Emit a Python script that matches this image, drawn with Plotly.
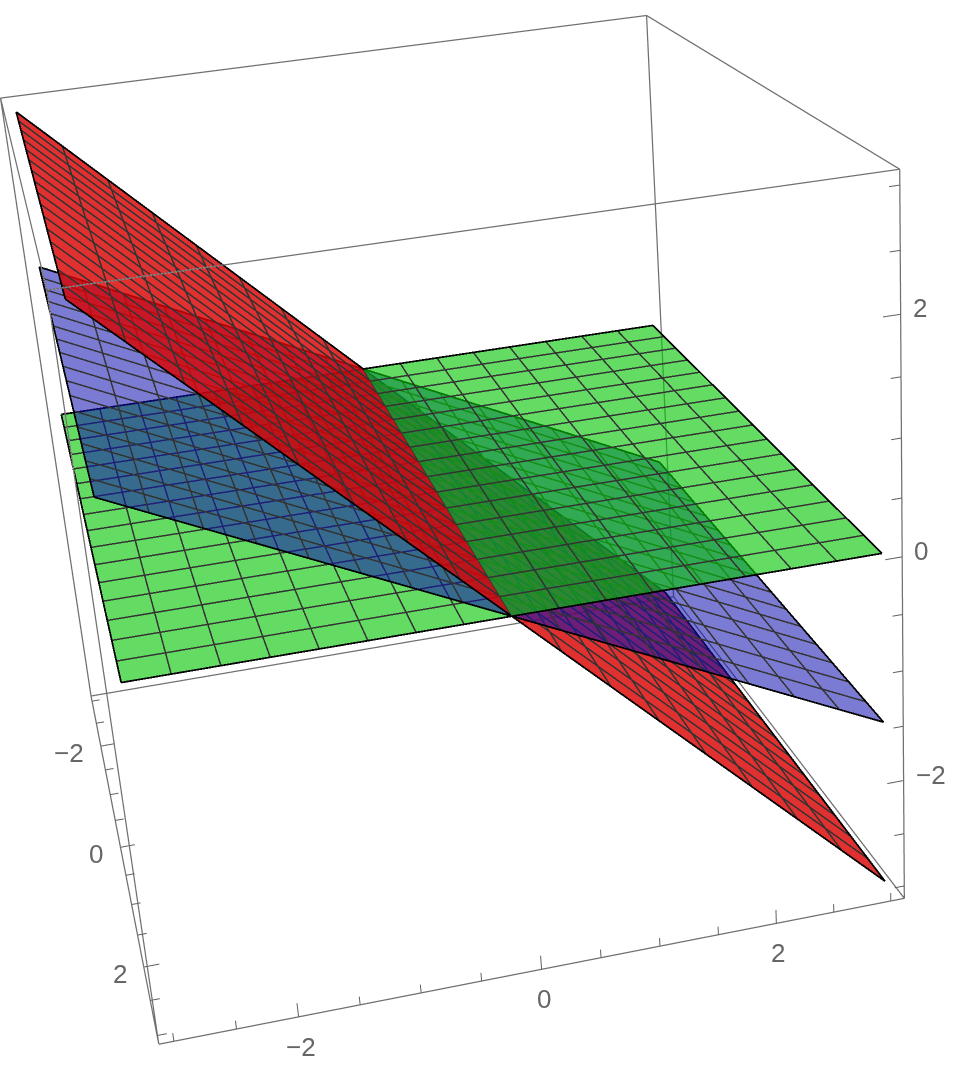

import plotly.graph_objects as go

# Axis ranges and ticks
axis_limits = [-3.12, 3.12]
major_ticks = [-2, 0, 2]
minor_ticks = [-3, -2.5, -1.5, -1, -0.5, 0.5, 1, 1.5, 2.5, 3]
major_labels = ["\u22122", "0", "2"]

# Plane samples. Every plane is split where it meets the other two (y = 0)
x_samples = [-3, 3]
y_back = [-3, 0]
y_front = [0, 3]
green_back = [0, 0]
green_front = [0, 0]
blue_back = [1.5, 0]
blue_front = [0, -1.5]
red_back = [3, 0]
red_front = [0, -3]

# Mesh line positions, with the height of each plane at them
x_mesh = [-2.625, -2.25, -1.875, -1.5, -1.125, -0.75, -0.375, 0, 0.375, 0.75, 1.125, 1.5, 1.875, 2.25, 2.625]
y_mesh_back = [-2.625, -2.25, -1.875, -1.5, -1.125, -0.75, -0.375, 0]
y_mesh_front = [0.375, 0.75, 1.125, 1.5, 1.875, 2.25, 2.625]
green_mesh_back = [0, 0, 0, 0, 0, 0, 0, 0]
green_mesh_front = [0, 0, 0, 0, 0, 0, 0]
blue_mesh_back = [1.3125, 1.125, 0.9375, 0.75, 0.5625, 0.375, 0.1875, 0]
blue_mesh_front = [-0.1875, -0.375, -0.5625, -0.75, -0.9375, -1.125, -1.3125]
red_mesh_back = [2.625, 2.25, 1.875, 1.5, 1.125, 0.75, 0.375, 0]
red_mesh_front = [-0.375, -0.75, -1.125, -1.5, -1.875, -2.25, -2.625]

GREEN, BLUE, RED = "rgb(5,198,5)", "rgb(15,15,175)", "rgb(217,2,2)"
A_GREEN, A_BLUE, A_RED = 0.62, 0.55, 0.82
MESH = "#333333"
EDGE = "#000000"
BOX = "#707070"
TICK = "#606060"
TXT = "#666666"

fig = go.Figure()

def strokes(xs, ys, zs, color, width):
    fig.add_trace(go.Scatter3d(x=xs, y=ys, z=zs, mode="lines", opacity=0.99,
        line=dict(color=color, width=width), hoverinfo="skip", showlegend=False))

def half_plane(ys, zs, y_lines, z_lines, color, alpha, back):
    fig.add_trace(go.Surface(x=x_samples, y=ys, z=[[zs[0], zs[0]], [zs[1], zs[1]]], opacity=alpha,
        colorscale=[[0, color], [1, color]], showscale=False, hoverinfo="skip",
        lighting=dict(ambient=1, diffuse=0, specular=0, fresnel=0, roughness=1),
        contours=dict(x=dict(show=False, highlight=False), y=dict(show=False, highlight=False), z=dict(show=False, highlight=False))))
    mx, my, mz = [], [], []
    for v in x_mesh:
        mx += [v, v, None]; my += [ys[0], ys[1], None]; mz += [zs[0], zs[1], None]
    for yv, zv in zip(y_lines, z_lines):
        mx += [x_samples[0], x_samples[1], None]; my += [yv, yv, None]; mz += [zv, zv, None]
    strokes(mx, my, mz, MESH, 3)
    outer = 0 if back else 1
    xa, xb = x_samples
    # only the outer edge and the two side edges carry the black border
    strokes([xa, xb, None, xa, xa, None, xb, xb],
            [ys[outer], ys[outer], None, ys[0], ys[1], None, ys[0], ys[1]],
            [zs[outer], zs[outer], None, zs[0], zs[1], None, zs[0], zs[1]], EDGE, 3.5)

# Box edges
lo, hi = axis_limits
bx, by, bz = [], [], []
for a in axis_limits:
    for b in axis_limits:
        bx += [lo, hi, None]; by += [a, a, None]; bz += [b, b, None]
        bx += [a, a, None]; by += [lo, hi, None]; bz += [b, b, None]
        bx += [a, a, None]; by += [b, b, None]; bz += [lo, hi, None]
fig.add_trace(go.Scatter3d(x=bx, y=by, z=bz, mode="lines", line=dict(color=BOX, width=2.5),
                           hoverinfo="skip", showlegend=False))

# Tick marks
tx, ty, tz = [], [], []
def tick(p0, p1):
    tx.extend([p0[0], p1[0], None]); ty.extend([p0[1], p1[1], None]); tz.extend([p0[2], p1[2], None])
for vals, k in ((major_ticks, 1.0), (minor_ticks, 0.6)):
    for v in vals:
        tick((v, lo, lo), (v, lo + 0.13 * k, lo))   # x axis on the floor, left side
        tick((hi, v, lo), (hi, v, lo + 0.13 * k))   # y axis along the front edge, pointing up
        tick((hi, hi, v), (hi, hi - 0.14 * k, v))   # z axis, right edge
fig.add_trace(go.Scatter3d(x=tx, y=ty, z=tz, mode="lines", line=dict(color=TICK, width=2),
                           hoverinfo="skip", showlegend=False))

# back-to-front drawing order on each side of the shared line
half_plane(y_back, green_back, y_mesh_back, green_mesh_back, GREEN, A_GREEN, True)
half_plane(y_back, blue_back, y_mesh_back, blue_mesh_back, BLUE, A_BLUE, True)
half_plane(y_back, red_back, y_mesh_back, red_mesh_back, RED, A_RED, True)
half_plane(y_front, red_front, y_mesh_front, red_mesh_front, RED, A_RED, False)
half_plane(y_front, blue_front, y_mesh_front, blue_mesh_front, BLUE, A_BLUE, False)
half_plane(y_front, green_front, y_mesh_front, green_mesh_front, GREEN, A_GREEN, False)

font = dict(family="Liberation Sans, Arial, sans-serif", size=26, color=TXT)
ann = []
for v, s in zip(major_ticks, major_labels):
    ann.append(dict(x=v, y=lo, z=lo, text=s, showarrow=False, xanchor="right", yanchor="middle", xshift=-15, yshift=-7, font=font))
    ann.append(dict(x=hi, y=v, z=lo, text=s, showarrow=False, xanchor="center", yanchor="middle", xshift=2, yshift=-30, font=font))
    ann.append(dict(x=hi, y=hi, z=v, text=s, showarrow=False, xanchor="left", yanchor="middle", xshift=10, yshift=6, font=font))

eye = [19.114, -3.533, 7.969]
up = [-0.3555, 0.1546, 0.9218]
fw = [-0.9103, 0.1666, -0.379]
span = hi - lo
t = -sum(e * f for e, f in zip(eye, fw))
center = [(e + f * t) / span for e, f in zip(eye, fw)]
axis = dict(range=axis_limits, autorange=False, showgrid=False, zeroline=False, showbackground=False,
            showticklabels=False, ticks="", ticklen=0, tickwidth=0, title=dict(text=""), showline=False,
            showspikes=False)
fig.update_layout(
    width=1064, height=1982, autosize=False, margin=dict(l=0, r=0, t=0, b=0),
    paper_bgcolor="white", showlegend=False,
    scene=dict(domain=dict(x=[0, 1], y=[0, 1]), xaxis=axis, yaxis=axis, zaxis=axis,
        aspectmode="manual", aspectratio=dict(x=1, y=1, z=1), annotations=ann,
        camera=dict(eye=dict(x=eye[0] / span, y=eye[1] / span, z=eye[2] / span),
                    center=dict(x=center[0], y=center[1], z=center[2]),
                    up=dict(x=up[0], y=up[1], z=up[2]), projection=dict(type="perspective"))))

place = """
var gd = document.getElementById('{plot_id}');
document.documentElement.style.overflow = 'hidden';
document.body.style.overflow = 'hidden';
document.body.style.margin = '0';
gd.style.position = 'absolute';
gd.style.left = '-108px';
gd.style.top = '-515px';
"""
fig.write_html("out.html", post_script=place)
